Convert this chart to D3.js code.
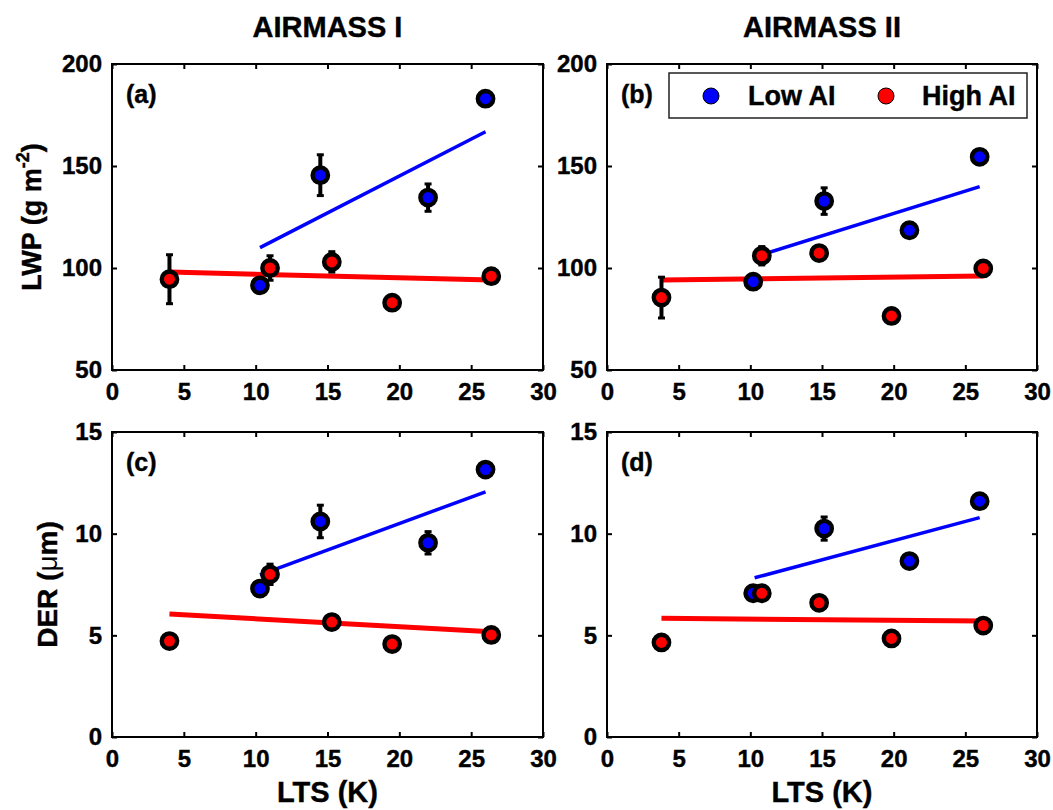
<!DOCTYPE html>
<html>
<head>
<meta charset="utf-8">
<script src="https://cdn.jsdelivr.net/npm/d3@7"></script>
<style>
  html, body { margin: 0; padding: 0; background: #fff; }
  svg { display: block; font-family: "Liberation Sans", Arial, Helvetica, sans-serif; font-weight: bold; }
</style>
</head>
<body>
<svg id="chart" width="1053" height="810"></svg>
<script>
// ---- data ----
const airmassTitles = ["AIRMASS I", "AIRMASS II"];
const panelLetters = ["(a)", "(b)", "(c)", "(d)"];
const seriesNames = ["Low AI", "High AI"];

const ltsTicks = [0, 5, 10, 15, 20, 25, 30];
const lwpTicks = [50, 100, 150, 200];
const derTicks = [0, 5, 10, 15];

// LTS (K) of each bin
const ltsLow_I = [10.3, 14.5, 22.0, 26.0];
const ltsHigh_I = [4.0, 11.0, 15.3, 19.5, 26.4];
const ltsLow_II = [10.2, 15.15, 21.1, 26.0];
const ltsHigh_II = [3.8, 10.8, 14.8, 19.85, 26.25];

// LWP (g m-2) and error
const lwpLow_I = [91.5, 145.5, 134.5, 183.0];
const lwpLowErr_I = [2, 10, 6.7, 3.5];
const lwpHigh_I = [94.5, 100.0, 103.0, 83.0, 96.0];
const lwpHighErr_I = [12, 6, 5, 2, 2.5];
const lwpLow_II = [93.3, 132.8, 118.5, 154.5];
const lwpLowErr_II = [2.5, 6.5, 3, 3.5];
const lwpHigh_II = [85.5, 106.0, 107.3, 76.5, 99.8];
const lwpHighErr_II = [10, 4.5, 3, 2.5, 2.5];

// DER (um) and error
const derLow_I = [7.3, 10.6, 9.55, 13.15];
const derLowErr_I = [0.25, 0.8, 0.55, 0.25];
const derHigh_I = [4.72, 8.0, 5.65, 4.57, 5.02];
const derHighErr_I = [0.3, 0.5, 0.25, 0.2, 0.25];
const derLow_II = [7.07, 10.25, 8.65, 11.6];
const derLowErr_II = [0.2, 0.57, 0.25, 0.25];
const derHigh_II = [4.65, 7.07, 6.6, 4.85, 5.48];
const derHighErr_II = [0.25, 0.2, 0.25, 0.25, 0.3];

// linear fit end points [[lts0, v0], [lts1, v1]]
const lwpFitLow_I = [[10.3, 110.0], [26.0, 166.8]];
const lwpFitHigh_I = [[4.0, 98.0], [26.4, 94.1]];
const lwpFitLow_II = [[10.2, 105.2], [26.0, 139.9]];
const lwpFitHigh_II = [[3.8, 94.1], [26.25, 96.1]];
const derFitLow_I = [[10.3, 7.97], [26.0, 12.06]];
const derFitHigh_I = [[4.0, 6.05], [26.4, 5.18]];
const derFitLow_II = [[10.3, 7.83], [26.0, 10.79]];
const derFitHigh_II = [[3.8, 5.84], [26.25, 5.7]];

// ---- layout ----
const colX = [[112, 543], [607, 1037]];
const rowY = [[64, 370], [432, 737]];
const colors = ["#0000ff", "#ff0000"];

const svg = d3.select("#chart");

const panels = [
  { col: 0, row: 0, domain: [50, 200], ticks: lwpTicks,
    low: [ltsLow_I, lwpLow_I, lwpLowErr_I, lwpFitLow_I],
    high: [ltsHigh_I, lwpHigh_I, lwpHighErr_I, lwpFitHigh_I] },
  { col: 1, row: 0, domain: [50, 200], ticks: lwpTicks,
    low: [ltsLow_II, lwpLow_II, lwpLowErr_II, lwpFitLow_II],
    high: [ltsHigh_II, lwpHigh_II, lwpHighErr_II, lwpFitHigh_II] },
  { col: 0, row: 1, domain: [0, 15], ticks: derTicks,
    low: [ltsLow_I, derLow_I, derLowErr_I, derFitLow_I],
    high: [ltsHigh_I, derHigh_I, derHighErr_I, derFitHigh_I] },
  { col: 1, row: 1, domain: [0, 15], ticks: derTicks,
    low: [ltsLow_II, derLow_II, derLowErr_II, derFitLow_II],
    high: [ltsHigh_II, derHigh_II, derHighErr_II, derFitHigh_II] }
];

panels.forEach((p, i) => {
  const [x0, x1] = colX[p.col];
  const [y0, y1] = rowY[p.row];
  const x = d3.scaleLinear().domain([0, 30]).range([x0, x1]);
  const y = d3.scaleLinear().domain(p.domain).range([y1, y0]);
  const g = svg.append("g");

  // axes with inward ticks on all four sides
  const styleAxis = sel => {
    sel.select(".domain").remove();
    sel.selectAll(".tick line").attr("stroke", "#000").attr("stroke-width", 2);
    sel.selectAll("text").attr("fill", "#000").attr("font-size", 24).attr("font-weight", "bold")
      .attr("stroke", "#000").attr("stroke-width", 0.4)
      .attr("font-family", "'Liberation Sans', Arial, sans-serif");
  };
  g.append("g").attr("transform", `translate(0,${y1})`)
    .call(d3.axisBottom(x).tickValues(ltsTicks).tickFormat(d3.format("d"))
      .tickSizeInner(-5).tickSizeOuter(0).tickPadding(13))
    .call(styleAxis);
  g.append("g").attr("transform", `translate(0,${y0})`)
    .call(d3.axisTop(x).tickValues(ltsTicks).tickFormat("")
      .tickSizeInner(-5).tickSizeOuter(0))
    .call(styleAxis);
  g.append("g").attr("transform", `translate(${x0},0)`)
    .call(d3.axisLeft(y).tickValues(p.ticks).tickFormat(d3.format("d"))
      .tickSizeInner(-5).tickSizeOuter(0).tickPadding(10))
    .call(styleAxis);
  g.append("g").attr("transform", `translate(${x1},0)`)
    .call(d3.axisRight(y).tickValues(p.ticks).tickFormat("")
      .tickSizeInner(-5).tickSizeOuter(0))
    .call(styleAxis);
  g.append("rect")
    .attr("x", x0).attr("y", y0).attr("width", x1 - x0).attr("height", y1 - y0)
    .attr("fill", "none").attr("stroke", "#000").attr("stroke-width", 2);

  const series = [p.low, p.high];

  // fit lines
  series.forEach((s, k) => {
    g.append("path")
      .attr("d", d3.line().x(d => x(d[0])).y(d => y(d[1]))(s[3]))
      .attr("stroke", colors[k]).attr("stroke-width", k === 0 ? 3.5 : 5)
      .attr("fill", "none");
  });

  // error bars and markers
  series.forEach((s, k) => {
    const pts = s[0].map((lx, j) => ({ lx, v: s[1][j], e: s[2][j] }));
    const eb = g.append("g").attr("stroke", "#000").attr("stroke-width", 4);
    pts.forEach(d => {
      const cx = x(d.lx), yt = y(d.v + d.e), yb = y(d.v - d.e);
      eb.append("line").attr("x1", cx).attr("x2", cx).attr("y1", yt).attr("y2", yb);
      eb.append("line").attr("x1", cx - 3.5).attr("x2", cx + 3.5).attr("y1", yt).attr("y2", yt)
        .attr("stroke-width", 3);
      eb.append("line").attr("x1", cx - 3.5).attr("x2", cx + 3.5).attr("y1", yb).attr("y2", yb)
        .attr("stroke-width", 3);
    });
    g.append("g").selectAll("circle").data(pts).join("circle")
      .attr("cx", d => x(d.lx)).attr("cy", d => y(d.v)).attr("r", 7.7)
      .attr("fill", colors[k]).attr("stroke", "#000").attr("stroke-width", 4.4);
  });

  // panel letter
  g.append("text").attr("x", x0 + 14).attr("y", y0 + 39)
    .attr("font-size", 25).attr("stroke", "#000").attr("stroke-width", 0.4)
    .text(panelLetters[i]);
});

// column titles and x labels
airmassTitles.forEach((t, c) => {
  svg.append("text").attr("x", (colX[c][0] + colX[c][1]) / 2).attr("y", 37)
    .attr("text-anchor", "middle").attr("font-size", 29)
    .attr("stroke", "#000").attr("stroke-width", 0.4).text(t);
  svg.append("text").attr("x", (colX[c][0] + colX[c][1]) / 2).attr("y", 802)
    .attr("text-anchor", "middle").attr("font-size", 29)
    .attr("stroke", "#000").attr("stroke-width", 0.4).text("LTS (K)");
});

// y-axis labels
const lwpLabel = svg.append("text")
  .attr("transform", `translate(41,${(rowY[0][0] + rowY[0][1]) / 2}) rotate(-90)`)
  .attr("text-anchor", "middle").attr("font-size", 27)
  .attr("stroke", "#000").attr("stroke-width", 0.4);
lwpLabel.append("tspan").text("LWP (g m");
lwpLabel.append("tspan").attr("font-size", 18).attr("dy", -12).text("-2");
lwpLabel.append("tspan").attr("dy", 12).text(")");

const derLabel = svg.append("text")
  .attr("transform", `translate(57,${(rowY[1][0] + rowY[1][1]) / 2}) rotate(-90)`)
  .attr("text-anchor", "middle").attr("font-size", 28)
  .attr("stroke", "#000").attr("stroke-width", 0.4);
derLabel.append("tspan").text("DER (");
derLabel.append("tspan").attr("font-weight", "normal").attr("stroke-width", 0).text("\u03bc");
derLabel.append("tspan").text("m)");

// legend
const lg = svg.append("g");
lg.append("rect").attr("x", 669).attr("y", 73).attr("width", 358).attr("height", 45)
  .attr("fill", "#fff").attr("stroke", "#222").attr("stroke-width", 1.5);
const legendMarkX = [711, 886];
const legendTextX = [748, 922];
seriesNames.forEach((n, k) => {
  lg.append("circle").attr("cx", legendMarkX[k]).attr("cy", 96).attr("r", 8)
    .attr("fill", colors[k]).attr("stroke", "#000").attr("stroke-width", 1);
  lg.append("text").attr("x", legendTextX[k]).attr("y", 105).attr("font-size", 27)
    .attr("stroke", "#000").attr("stroke-width", 0.4).text(n);
});
</script>
</body>
</html>
